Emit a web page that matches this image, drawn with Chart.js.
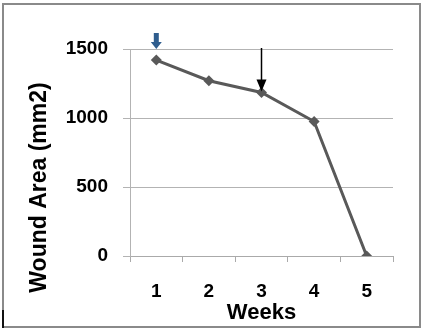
<!DOCTYPE html>
<html>
<head>
<meta charset="utf-8">
<script src="https://cdn.jsdelivr.net/npm/chart.js@4/dist/chart.umd.min.js"></script>
<style>
  html, body { margin: 0; padding: 0; background: #fff; }
  #wrap { position: relative; width: 424px; height: 332px; }
</style>
</head>
<body>
<div id="wrap"><canvas id="c" width="424" height="332"></canvas></div>
<script>
// Wound area measured each week
const weeks = ['1', '2', '3', '4', '5'];
const woundArea = [1420, 1270, 1185, 975, 0];
const yTicks = [0, 500, 1000, 1500];
const yTitle = 'Wound Area (mm2)';

const FONT = "'Liberation Sans', Arial, sans-serif";

// Outer frame around the whole figure
const framePlugin = {
  id: 'frame',
  beforeDraw(chart) {
    const ctx = chart.ctx;
    ctx.save();
    ctx.fillStyle = '#fff';
    ctx.fillRect(0, 0, chart.width, chart.height);
    ctx.strokeStyle = '#8a8a8a';
    ctx.lineWidth = 2;
    ctx.strokeRect(3, 4, 417, 323);
    ctx.strokeStyle = '#111';
    ctx.beginPath();
    ctx.moveTo(3, 310);
    ctx.lineTo(3, 328);
    ctx.stroke();
    ctx.restore();
  }
};

// Vertical axis title, set lower than the plot centre
const yTitlePlugin = {
  id: 'yTitle',
  afterDraw(chart) {
    const ctx = chart.ctx;
    const area = chart.chartArea;
    ctx.save();
    ctx.translate(40, (area.top + area.bottom) / 2 + 35);
    ctx.rotate(-Math.PI / 2);
    ctx.fillStyle = '#000';
    ctx.font = "bold 23px " + FONT;
    ctx.textAlign = 'center';
    ctx.textBaseline = 'middle';
    ctx.fillText(yTitle, 0, 0);
    ctx.restore();
  }
};

// Arrows pointing at week 1 (block arrow) and week 3 (thin arrow)
const arrowPlugin = {
  id: 'arrows',
  afterDatasetsDraw(chart) {
    const ctx = chart.ctx;
    const meta = chart.getDatasetMeta(0);
    const ys = chart.scales.y;
    ctx.save();
    // block arrow above first point
    const p0 = meta.data[0];
    const tip0 = p0.y - 11;
    ctx.fillStyle = '#2f5d8e';
    ctx.beginPath();
    ctx.moveTo(p0.x - 2.5, tip0 - 16);
    ctx.lineTo(p0.x + 2.5, tip0 - 16);
    ctx.lineTo(p0.x + 2.5, tip0 - 7);
    ctx.lineTo(p0.x + 5.5, tip0 - 7);
    ctx.lineTo(p0.x, tip0);
    ctx.lineTo(p0.x - 5.5, tip0 - 7);
    ctx.lineTo(p0.x - 2.5, tip0 - 7);
    ctx.closePath();
    ctx.fill();
    // thin arrow down to the third point
    const p2 = meta.data[2];
    const top = ys.getPixelForValue(1500) - 1;
    const tip2 = p2.y;
    ctx.strokeStyle = '#000';
    ctx.fillStyle = '#000';
    ctx.lineWidth = 1.5;
    ctx.beginPath();
    ctx.moveTo(p2.x, top);
    ctx.lineTo(p2.x, tip2 - 10);
    ctx.stroke();
    ctx.beginPath();
    ctx.moveTo(p2.x - 5, tip2 - 13);
    ctx.lineTo(p2.x + 5, tip2 - 13);
    ctx.lineTo(p2.x, tip2 - 1);
    ctx.closePath();
    ctx.fill();
    ctx.restore();
  }
};

new Chart(document.getElementById('c'), {
  type: 'line',
  data: {
    labels: weeks,
    datasets: [{
      data: woundArea,
      borderColor: '#595959',
      backgroundColor: '#595959',
      borderWidth: 3,
      pointStyle: 'rectRot',
      pointRadius: 5.5,
      pointBorderWidth: 0,
      tension: 0
    }]
  },
  options: {
    responsive: false,
    animation: false,
    devicePixelRatio: 1,
    layout: { padding: { left: 0, right: 31, top: 49, bottom: 0 } },
    plugins: { legend: { display: false }, tooltip: { enabled: false } },
    scales: {
      x: {
        offset: true,
        grid: { drawOnChartArea: false, drawTicks: true, tickLength: 6, color: '#aaa', offset: true },
        border: { color: '#aaa', width: 1 },
        ticks: { color: '#000', padding: 18, font: { family: FONT, size: 19, weight: 'bold' } },
        title: { display: true, text: 'Weeks', color: '#000', padding: { top: 0, bottom: 6 },
                 font: { family: FONT, size: 22, weight: 'bold' } },
        afterFit(scale) { scale.height = 76; }
      },
      y: {
        min: 0,
        max: 1500,
        afterBuildTicks(scale) { scale.ticks = yTicks.map(v => ({ value: v })); },
        grid: { color: '#b3b3b3', tickLength: 7, lineWidth: 1 },
        border: { color: '#b3b3b3', width: 1 },
        ticks: { color: '#000', padding: 15, font: { family: FONT, size: 19, weight: 'bold' },
                 callback: (v) => String(v) },
        afterFit(scale) { scale.width = 130; }
      }
    }
  },
  plugins: [framePlugin, yTitlePlugin, arrowPlugin]
});
</script>
</body>
</html>
